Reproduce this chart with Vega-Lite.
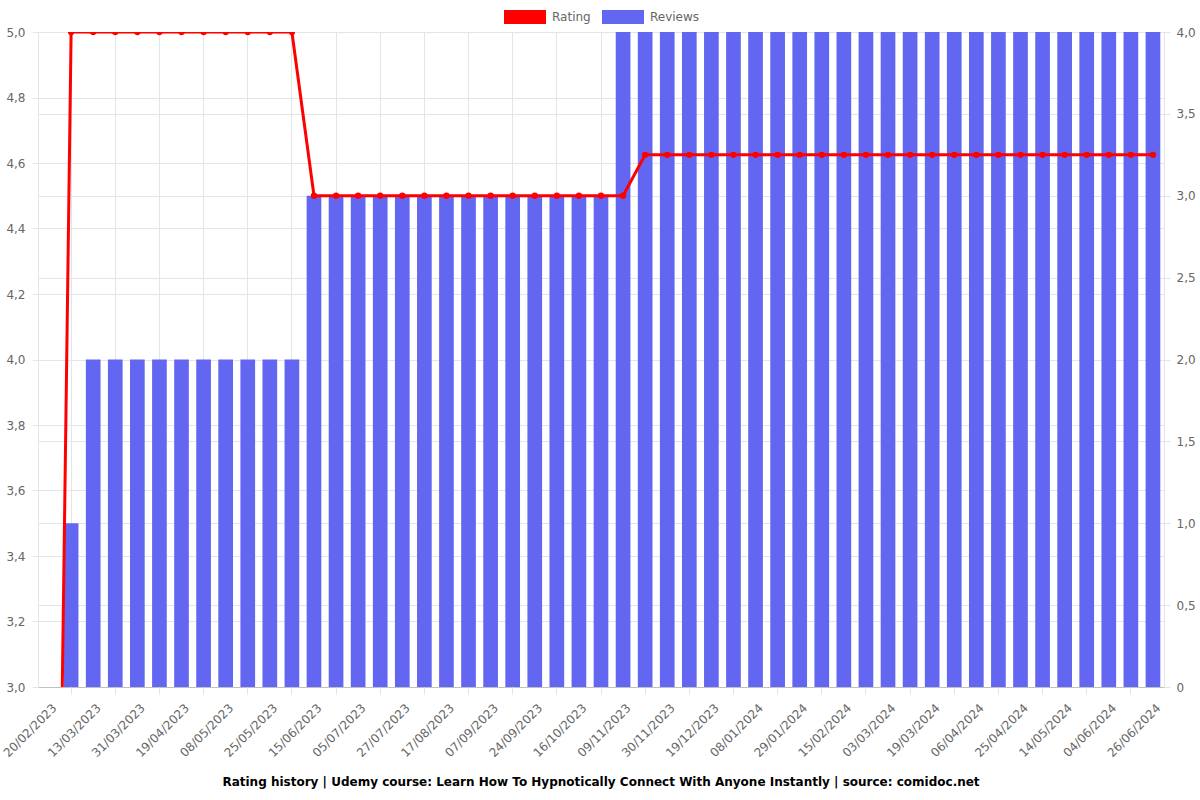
{
  "$schema": "https://vega.github.io/schema/vega-lite/v6.json",
  "width": 1126,
  "height": 655,
  "autosize": {"type": "none"},
  "padding": {"left": 38, "top": 32, "right": 36, "bottom": 113},
  "background": "white",
  "config": {
    "font": "DejaVu Sans",
    "view": {"stroke": null},
    "axis": {
      "labelFont": "DejaVu Sans",
      "labelFontSize": 12,
      "labelColor": "#666666",
      "gridColor": "#e5e5e5",
      "tickColor": "#e5e5e5",
      "domainColor": "#d0d0d0",
      "title": null
    }
  },
  "title": {
    "text": "Rating history | Udemy course: Learn How To Hypnotically Connect With Anyone Instantly | source: comidoc.net",
    "orient": "bottom",
    "anchor": "middle",
    "fontSize": 12,
    "fontWeight": "bold",
    "color": "#000000",
    "font": "DejaVu Sans",
    "offset": 18
  },
  "data": {
    "values": [
      {"date": "20/02/2023", "rating": 0, "reviews": 0},
      {"date": "02/03/2023", "rating": 5, "reviews": 1},
      {"date": "13/03/2023", "rating": 5, "reviews": 2},
      {"date": "22/03/2023", "rating": 5, "reviews": 2},
      {"date": "31/03/2023", "rating": 5, "reviews": 2},
      {"date": "10/04/2023", "rating": 5, "reviews": 2},
      {"date": "19/04/2023", "rating": 5, "reviews": 2},
      {"date": "28/04/2023", "rating": 5, "reviews": 2},
      {"date": "08/05/2023", "rating": 5, "reviews": 2},
      {"date": "17/05/2023", "rating": 5, "reviews": 2},
      {"date": "25/05/2023", "rating": 5, "reviews": 2},
      {"date": "04/06/2023", "rating": 5, "reviews": 2},
      {"date": "15/06/2023", "rating": 4.5, "reviews": 3},
      {"date": "25/06/2023", "rating": 4.5, "reviews": 3},
      {"date": "05/07/2023", "rating": 4.5, "reviews": 3},
      {"date": "16/07/2023", "rating": 4.5, "reviews": 3},
      {"date": "27/07/2023", "rating": 4.5, "reviews": 3},
      {"date": "06/08/2023", "rating": 4.5, "reviews": 3},
      {"date": "17/08/2023", "rating": 4.5, "reviews": 3},
      {"date": "28/08/2023", "rating": 4.5, "reviews": 3},
      {"date": "07/09/2023", "rating": 4.5, "reviews": 3},
      {"date": "15/09/2023", "rating": 4.5, "reviews": 3},
      {"date": "24/09/2023", "rating": 4.5, "reviews": 3},
      {"date": "05/10/2023", "rating": 4.5, "reviews": 3},
      {"date": "16/10/2023", "rating": 4.5, "reviews": 3},
      {"date": "27/10/2023", "rating": 4.5, "reviews": 3},
      {"date": "09/11/2023", "rating": 4.5, "reviews": 4},
      {"date": "20/11/2023", "rating": 4.625, "reviews": 4},
      {"date": "30/11/2023", "rating": 4.625, "reviews": 4},
      {"date": "09/12/2023", "rating": 4.625, "reviews": 4},
      {"date": "19/12/2023", "rating": 4.625, "reviews": 4},
      {"date": "29/12/2023", "rating": 4.625, "reviews": 4},
      {"date": "08/01/2024", "rating": 4.625, "reviews": 4},
      {"date": "18/01/2024", "rating": 4.625, "reviews": 4},
      {"date": "29/01/2024", "rating": 4.625, "reviews": 4},
      {"date": "06/02/2024", "rating": 4.625, "reviews": 4},
      {"date": "15/02/2024", "rating": 4.625, "reviews": 4},
      {"date": "23/02/2024", "rating": 4.625, "reviews": 4},
      {"date": "03/03/2024", "rating": 4.625, "reviews": 4},
      {"date": "11/03/2024", "rating": 4.625, "reviews": 4},
      {"date": "19/03/2024", "rating": 4.625, "reviews": 4},
      {"date": "28/03/2024", "rating": 4.625, "reviews": 4},
      {"date": "06/04/2024", "rating": 4.625, "reviews": 4},
      {"date": "15/04/2024", "rating": 4.625, "reviews": 4},
      {"date": "25/04/2024", "rating": 4.625, "reviews": 4},
      {"date": "05/05/2024", "rating": 4.625, "reviews": 4},
      {"date": "14/05/2024", "rating": 4.625, "reviews": 4},
      {"date": "24/05/2024", "rating": 4.625, "reviews": 4},
      {"date": "04/06/2024", "rating": 4.625, "reviews": 4},
      {"date": "15/06/2024", "rating": 4.625, "reviews": 4},
      {"date": "26/06/2024", "rating": 4.625, "reviews": 4}
    ]
  },
  "layer": [
    {
      "mark": {"type": "bar", "color": "#6366f1"},
      "encoding": {
        "x": {
          "field": "date",
          "type": "ordinal",
          "sort": null,
          "scale": {"paddingInner": 0.335, "paddingOuter": 0.1675},
          "axis": {
            "orient": "bottom",
            "values": ["20/02/2023", "13/03/2023", "31/03/2023", "19/04/2023", "08/05/2023", "25/05/2023", "15/06/2023", "05/07/2023", "27/07/2023", "17/08/2023", "07/09/2023", "24/09/2023", "16/10/2023", "09/11/2023", "30/11/2023", "19/12/2023", "08/01/2024", "29/01/2024", "15/02/2024", "03/03/2024", "19/03/2024", "06/04/2024", "25/04/2024", "14/05/2024", "04/06/2024", "26/06/2024"],
            "labelAngle": -45,
            "grid": false,
            "ticks": false,
            "domain": true,
            "domainColor": "#c0c0c0",
            "labelPadding": 15,
            "labelOffset": 2
          }
        },
        "y": {
          "field": "reviews",
          "type": "quantitative",
          "scale": {"domain": [0, 4], "nice": false, "zero": true},
          "axis": {
            "orient": "right",
            "values": [0, 0.5, 1, 1.5, 2, 2.5, 3, 3.5, 4],
            "labelExpr": "datum.value == 0 ? '0' : replace(format(datum.value, '.1f'), '.', ',')",
            "grid": true,
            "tickSize": 6,
            "labelPadding": 6,
            "domain": true,
            "domainColor": "#e5e5e5"
          }
        },
        "color": {
          "datum": "Reviews",
          "type": "nominal",
          "scale": {"domain": ["Rating", "Reviews"], "range": ["#ff0000", "#6366f1"]},
          "legend": {
            "title": null,
            "orient": "none",
            "direction": "horizontal",
            "legendX": 466,
            "legendY": -36,
            "symbolType": "M-1,-0.333H1V0.333H-1Z",
            "symbolSize": 1764,
            "symbolStrokeWidth": 0,
            "symbolOpacity": 1,
            "labelFontSize": 12,
            "labelColor": "#666666",
            "labelOffset": 6,
            "columnPadding": 11
          }
        }
      }
    },
    {
      "encoding": {
        "x": {
          "field": "date",
          "type": "ordinal",
          "sort": null,
          "axis": {
            "orient": "bottom",
            "values": ["02/03/2023", "22/03/2023", "10/04/2023", "28/04/2023", "17/05/2023", "04/06/2023", "25/06/2023", "16/07/2023", "06/08/2023", "28/08/2023", "15/09/2023", "05/10/2023", "27/10/2023", "20/11/2023", "09/12/2023", "29/12/2023", "18/01/2024", "06/02/2024", "23/02/2024", "11/03/2024", "28/03/2024", "15/04/2024", "05/05/2024", "24/05/2024", "15/06/2024"],
            "labels": false,
            "ticks": true,
            "tickSize": 7,
            "grid": true,
            "domain": false
          }
        },
        "y": {
          "field": "rating",
          "type": "quantitative",
          "scale": {"domain": [3, 5], "nice": false, "zero": false},
          "axis": {
            "orient": "left",
            "values": [3, 3.2, 3.4, 3.6, 3.8, 4, 4.2, 4.4, 4.6, 4.8, 5],
            "labelExpr": "replace(format(datum.value, '.1f'), '.', ',')",
            "grid": true,
            "tickSize": 6,
            "labelPadding": 7,
            "domain": true,
            "domainColor": "#e5e5e5"
          }
        }
      },
      "layer": [
        {
          "mark": {"type": "line", "color": "#ff0000", "strokeWidth": 3, "clip": true}
        },
        {
          "mark": {"type": "point", "filled": true, "size": 40, "opacity": 1, "clip": true},
          "encoding": {
            "color": {"datum": "Rating", "type": "nominal"}
          }
        }
      ]
    }
  ],
  "resolve": {
    "scale": {"y": "independent"},
    "axis": {"x": "independent", "y": "independent"}
  }
}
